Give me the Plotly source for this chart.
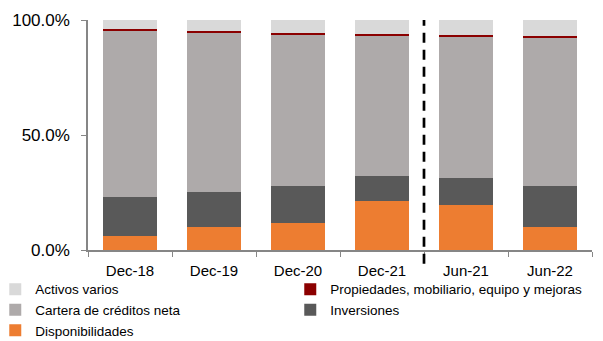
import plotly.graph_objects as go

categories = ["Dec-18", "Dec-19", "Dec-20", "Dec-21", "Jun-21", "Jun-22"]
disponibilidades = [6.0, 9.9, 11.9, 21.2, 19.4, 10.1]
inversiones = [17.0, 15.2, 15.8, 10.8, 12.0, 17.9]
cartera = [72.6, 69.5, 66.0, 61.3, 61.6, 64.4]
propiedades = [0.6, 0.6, 0.6, 0.6, 0.4, 0.6]
activos = [3.8, 4.8, 5.7, 6.1, 6.6, 7.0]
ytick_vals = [0, 50, 100]
ytick_text = ["0.0%", "50.0%", "100.0%"]

series = [
    ("Disponibilidades", disponibilidades, "#ED7D31"),
    ("Inversiones", inversiones, "#595959"),
    ("Cartera de créditos neta", cartera, "#AEAAAA"),
    ("Propiedades, mobiliario, equipo y mejoras", propiedades, "#8B0000"),
    ("Activos varios", activos, "#D9D9D9"),
]

fig = go.Figure()
for name, vals, col in series:
    fig.add_trace(go.Bar(
        x=categories, y=vals, name=name,
        marker=dict(color=col, line=dict(width=0)),
    ))

fig.add_shape(type="line", xref="x", yref="paper",
              x0=3.5, x1=3.5, y0=-0.06, y1=1.0,
              line=dict(color="black", width=2.7, dash="10px,7px"))

fig.update_layout(
    barmode="stack",
    bargap=0.35,
    width=603, height=341,
    margin=dict(l=88, r=11, t=20, b=91, autoexpand=False),
    paper_bgcolor="white", plot_bgcolor="white",
    font=dict(family="Liberation Sans", color="black"),
    showlegend=True,
    legend=dict(
        orientation="h", traceorder="reversed",
        x=-0.184, xanchor="left", y=-0.104, yanchor="top",
        entrywidth=250, entrywidthmode="pixels",
        font=dict(size=13.5, color="black"),
        bgcolor="rgba(0,0,0,0)",
    ),
    xaxis=dict(
        showline=True, linecolor="#868686", linewidth=1.5,
        ticks="outside", tickson="boundaries", ticklen=5, tickcolor="#868686",
        tickfont=dict(size=15), showgrid=False, ticklabelstandoff=6,
    ),
    yaxis=dict(
        range=[0, 100], tickvals=ytick_vals, ticktext=ytick_text,
        showline=True, linecolor="#868686", linewidth=1.5,
        ticks="outside", ticklen=5, tickcolor="#868686",
        tickfont=dict(size=17), showgrid=False, zeroline=False,
        ticklabelstandoff=8,
    ),
)

fig.write_html("out.html")
